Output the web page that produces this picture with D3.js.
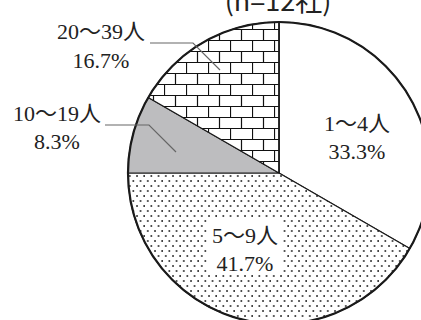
<!DOCTYPE html>
<html><head><meta charset="utf-8">
<script src="https://cdn.jsdelivr.net/npm/d3@7"></script>
<style>
html,body{margin:0;padding:0;background:#fff;}
svg{display:block;}
.lbl{font-family:"Liberation Serif","Noto Sans CJK JP",serif;}
</style></head>
<body>
<svg id="chart" width="421" height="320"></svg>
<script>
const title = "(n=12社)";
const categories = ["1〜4人", "5〜9人", "10〜19人", "20〜39人"];
const counts = [4, 5, 1, 2];
const percents = ["33.3%", "41.7%", "8.3%", "16.7%"];
const fills = ["#ffffff", "url(#dots)", "#bdbdbf", "url(#bricks)"];

const svg = d3.select("#chart");
const cx = 279, cy = 173, R = 151;
const defs = svg.append("defs");

const dp = defs.append("pattern").attr("id","dots").attr("patternUnits","userSpaceOnUse")
  .attr("width",7.2).attr("height",10).attr("x",1).attr("y",2);
dp.append("rect").attr("width",7.2).attr("height",10).attr("fill","#fff");
dp.append("rect").attr("x",0.2).attr("y",0.2).attr("width",1.6).attr("height",1.6).attr("fill","#111");
dp.append("rect").attr("x",3.8).attr("y",5.2).attr("width",1.6).attr("height",1.6).attr("fill","#111");

const bp = defs.append("pattern").attr("id","bricks").attr("patternUnits","userSpaceOnUse")
  .attr("width",22).attr("height",22).attr("x",215).attr("y",21);
bp.append("rect").attr("width",22).attr("height",22).attr("fill","#fff");
bp.append("path").attr("d","M0,0.5H22M0,11.5H22M0.5,0V11M11.5,11V22")
  .attr("stroke","#111").attr("stroke-width",1.2).attr("fill","none");

const pie = d3.pie().sort(null).value(d => d)(counts);
const arc = d3.arc().innerRadius(0).outerRadius(R);
const g = svg.append("g").attr("transform",`translate(${cx},${cy})`);
g.selectAll("path.slice").data(pie).join("path").attr("class","slice")
  .attr("d",arc).attr("fill",(d,i)=>fills[i])
  .attr("stroke","#1a1a1a").attr("stroke-width",1.1).attr("stroke-linejoin","round");
g.append("circle").attr("r",R).attr("fill","none").attr("stroke","#1a1a1a").attr("stroke-width",2.2);
g.append("line").attr("x1",0).attr("y1",0).attr("x2",0).attr("y2",-R).attr("stroke","#1a1a1a").attr("stroke-width",1.6);

svg.append("rect").attr("x",208).attr("y",217).attr("width",75).attr("height",56).attr("fill","#fff");

const leaders = [
  [[105,125],[149,125],[176,152]],
  [[150,43],[193,43],[220,70]]
];
svg.selectAll("path.leader").data(leaders).join("path").attr("class","leader")
  .attr("d", d3.line()).attr("fill","none").attr("stroke","#666").attr("stroke-width",1.2);

const labelPos = [[357,131,159],[245,243,271],[57,121,149],[101,39,68]];
labelPos.forEach((p,i)=>{
  const t = svg.append("text").attr("class","lbl").attr("text-anchor","middle")
    .attr("font-size",22).attr("fill","#222");
  t.append("tspan").attr("x",p[0]).attr("y",p[1]).text(categories[i]);
  t.append("tspan").attr("x",p[0]).attr("y",p[2]).text(percents[i]);
});

svg.append("text").attr("x",278).attr("y",11).attr("text-anchor","middle")
  .attr("font-family","'Noto Sans CJK JP','Noto Sans',sans-serif").attr("font-size",27)
  .attr("fill","#222").text(title);
</script>
</body></html>
